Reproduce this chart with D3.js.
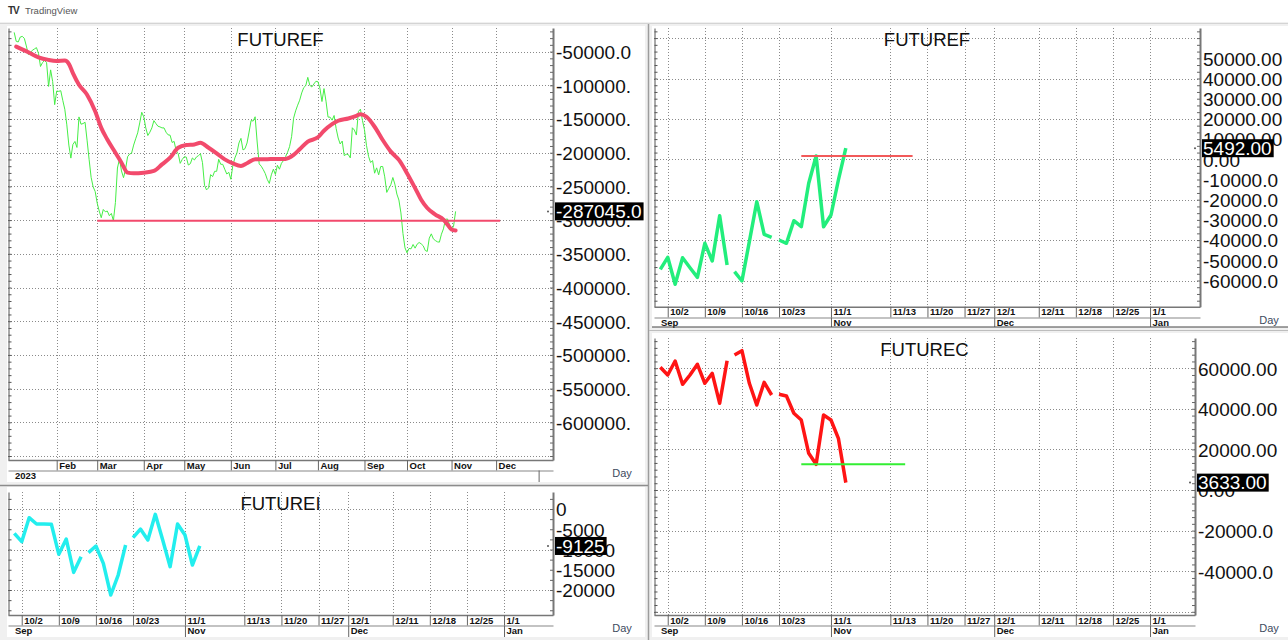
<!DOCTYPE html>
<html>
<head>
<meta charset="utf-8">
<script src="https://cdn.jsdelivr.net/npm/d3@7"></script>
<style>
    body { margin: 0; background: #f0f0f0; }
    svg { display: block; }
</style>
</head>
<body>
<svg id="chart" width="1288" height="640"></svg>
<script>
var FONT = '"Liberation Sans", Arial, sans-serif';

// ---- top-left FUTUREF: one value per weekday, from 2023-01-03 to 2023-11-03
var futurefStart = "2023-01-03";
var futurefDaily = [
    -21500, -34700, -35700, -28400, -27400, -30300, -41600, -54400, -51500, -48000,
    -46100, -44100, -52500, -72100, -66200, -63300, -66200, -101700, -77100, -94300,
    -128700, -108500, -109000, -108000, -122300, -135600, -158700, -188700, -208000, -187800,
    -183300, -192200, -146900, -157700, -156800, -154800, -181400, -209900, -236500, -250700,
    -257600, -274800, -286600, -296500, -284200, -287600, -286600, -293500, -290100, -300900,
    -273900, -222700, -209400, -227100, -237000, -224700, -206000, -202000, -200500, -188700,
    -179400, -170500, -155800, -140000, -146900, -163200, -174500, -169600, -163200, -152400,
    -156800, -160700, -161700, -163200, -163200, -169600, -173500, -174000, -184800, -183300,
    -197100, -201500, -215800, -209900, -206000, -206500, -218300, -216300, -207800, -210800,
    -206400, -204400, -201500, -214800, -248300, -255200, -252200, -232500, -235500, -227600,
    -227600, -209800, -217200, -217200, -224600, -231600, -229100, -239400, -218800, -207700,
    -200400, -185600, -178700, -195900, -194000, -185600, -169400, -152200, -153100, -146700,
    -184100, -216600, -220000, -225000, -230900, -239700, -245600, -232800, -224500, -232300,
    -218600, -224500, -215600, -211700, -205800, -199400, -191000, -176300, -148700, -137900,
    -129500, -122100, -111300, -103400, -100500, -88200, -100000, -102500, -98000, -94100,
    -94600, -104400, -124100, -104900, -123600, -147200, -147200, -151700, -144800, -164000,
    -178200, -187100, -182700, -204300, -202300, -202800, -207700, -163000, -166400, -173800,
    -138900, -135400, -152200, -165900, -189500, -205300, -214600, -211700, -230400, -222500,
    -232800, -220500, -220500, -235800, -258900, -253000, -247600, -236800, -246600, -261400,
    -270200, -289400, -319900, -341100, -348500, -342000, -342600, -336200, -341600, -335700,
    -333200, -335200, -338100, -345000, -346500, -326800, -320400, -327800, -330300, -332200,
    -332700, -320900, -313000, -298800, -298300, -307100, -314500, -309100, -287045
];
// smoothed line
var futurefAvgDates = [
    "2023-01-04", "2023-01-12", "2023-01-19", "2023-01-26", "2023-02-01", "2023-02-07", "2023-02-09",
    "2023-02-13", "2023-02-16", "2023-02-22", "2023-02-28", "2023-03-03", "2023-03-08", "2023-03-14",
    "2023-03-17", "2023-03-22", "2023-03-27", "2023-04-03", "2023-04-10", "2023-04-14", "2023-04-20",
    "2023-04-26", "2023-05-02", "2023-05-08", "2023-05-11", "2023-05-17", "2023-05-23", "2023-05-29",
    "2023-06-02", "2023-06-08", "2023-06-13", "2023-06-19", "2023-06-26", "2023-07-03", "2023-07-10",
    "2023-07-14", "2023-07-19", "2023-07-25", "2023-08-01", "2023-08-04", "2023-08-10", "2023-08-15",
    "2023-08-22", "2023-08-28", "2023-08-30", "2023-09-04", "2023-09-08", "2023-09-14", "2023-09-20",
    "2023-09-26", "2023-10-02", "2023-10-06", "2023-10-11", "2023-10-16", "2023-10-20", "2023-10-26",
    "2023-10-30", "2023-11-01", "2023-11-03"
];
var futurefAvgValues = [
    -42600, -51000, -58400, -62300, -63800, -63300, -68200,
    -82000, -99200, -114000, -138600, -163200, -180400, -200000,
    -214800, -229600, -230600, -229600, -227100, -217300, -207400,
    -192700, -188700, -187800, -185300, -192700, -201000, -209900,
    -215800, -219600, -215600, -209700, -209700, -209200, -209200,
    -203300, -195000, -183600, -177200, -167400, -157600, -152600,
    -149200, -145300, -142800, -146700, -161500, -181200, -198400,
    -210700, -230400, -252500, -269700, -282000, -291800, -299300,
    -306600, -314000, -315500
];
var futurefLevelDates = ["2023-03-01", "2023-12-05"];
var futurefLevel = -301000;

// ---- the three recent panels (Sep 29 .. Nov 3)
var recentDates = [
    "2023-09-29", "2023-10-02", "2023-10-03", "2023-10-04", "2023-10-05", "2023-10-06", "2023-10-09",
    "2023-10-10", "2023-10-11", "2023-10-12", "2023-10-13", "2023-10-16", "2023-10-17", "2023-10-18",
    "2023-10-19", "2023-10-20", "2023-10-23", "2023-10-24", "2023-10-25", "2023-10-26", "2023-10-27",
    "2023-10-30", "2023-10-31", "2023-11-01", "2023-11-02", "2023-11-03"
];
var gapAfter = ["2023-10-12", "2023-10-20"];
var futureiValues = [
    -6000, -8070, -2140, -3700, -3700, -3780, -11190, -7410, -15640, -11770, -10780, -9140, -13420,
    -21230, -16300, -8890, -7080, -4940, -7650, -1320, -7650, -14240, -3700, -6420, -13830, -9125
];
var futuref2Values = [
    -54455, -48515, -61881, -48700, -53660, -58420, -41580, -50350, -27920, -52330, -55640, -60250, -40790,
    -20990, -37130, -38610, -39950, -41580, -30400, -33370, -11880, 1630, -33370, -27570, -10250, 5492
];
var futurecValues = [
    60440, 56650, 63550, 52070, 56650, 61920, 52560, 57490, 42710, 63700, 66500, 68620, 52560,
    41870, 53050, 46800, 47140, 46300, 37780, 34480, 18080, 12660, 36950, 34480, 25470, 3633
];
var futuref2LevelDates = ["2023-10-26", "2023-11-16"];
var futuref2Level = 1630;
var futurecLevelDates = ["2023-10-26", "2023-11-15"];
var futurecLevel = 12660;

// ---- tick labels
var monthTickDates = ["2023-02-01", "2023-03-01", "2023-04-03", "2023-05-01", "2023-06-01", "2023-07-03",
    "2023-08-01", "2023-09-01", "2023-10-02", "2023-11-01", "2023-12-01"];
var monthTickLabels = ["Feb", "Mar", "Apr", "May", "Jun", "Jul", "Aug", "Sep", "Oct", "Nov", "Dec"];
var yearBandDates = ["2024-01-01"];
var yearBandLabels = [""];
var dayTickDates = ["2023-10-02", "2023-10-09", "2023-10-16", "2023-10-23", "2023-11-01", "2023-11-13",
    "2023-11-20", "2023-11-27", "2023-12-01", "2023-12-11", "2023-12-18", "2023-12-25", "2024-01-01"];
var dayTickLabels = ["10/2", "10/9", "10/16", "10/23", "11/1", "11/13", "11/20", "11/27", "12/1",
    "12/11", "12/18", "12/25", "1/1"];
var monthBandDates = ["2023-11-01", "2023-12-01", "2024-01-01"];
var monthBandLabels = ["Nov", "Dec", "Jan"];

var p1Ticks = [-50000, -100000, -150000, -200000, -250000, -300000, -350000, -400000, -450000, -500000, -550000, -600000];
var p1TickLabels = ["-50000.0", "-100000.", "-150000.", "-200000.", "-250000.", "-300000.", "-350000.",
    "-400000.", "-450000.", "-500000.", "-550000.", "-600000."];
var p2Ticks = [0, -5000, -10000, -15000, -20000];
var p2TickLabels = ["0", "-5000", "-10000", "-15000", "-20000"];
var p3Ticks = [50000, 40000, 30000, 20000, 10000, 0, -10000, -20000, -30000, -40000, -50000, -60000];
var p3TickLabels = ["50000.00", "40000.00", "30000.00", "20000.00", "10000.00", "0.00", "-10000.0",
    "-20000.0", "-30000.0", "-40000.0", "-50000.0", "-60000.0"];
var p4Ticks = [60000, 40000, 20000, 0, -20000, -40000];
var p4TickLabels = ["60000.00", "40000.00", "20000.00", "0.00", "-20000.0", "-40000.0"];

var svg = d3.select("#chart").attr("font-family", FONT);

function parseDay(s)
{
    var p = s.split("-");
    return new Date(Date.UTC(+p[0], p[1] - 1, +p[2]));
}
var baseDay = parseDay("2023-02-01");

// weekday count from Feb 1 2023 (weekends skipped)
function weekdayIndex(s)
{
    var d = parseDay(s);
    var t = new Date(baseDay.getTime());
    var step = d > baseDay ? 1 : -1;
    var n = 0;
    while (t.getTime() != d.getTime())
    {
        t.setUTCDate(t.getUTCDate() + step);
        var wd = t.getUTCDay();
        if (wd != 0 && wd != 6) n += step;
    }
    return n;
}

// page frame
svg.append("rect").attr("x", 0).attr("y", 0).attr("width", 1288).attr("height", 22).attr("fill", "#fff");
svg.append("line").attr("x1", 0).attr("x2", 1288).attr("y1", 23.5).attr("y2", 23.5).attr("stroke", "#d4d4d4");
svg.append("text").attr("x", 8).attr("y", 14).attr("font-size", 10).attr("font-weight", "bold")
    .attr("fill", "#333").attr("letter-spacing", -1).text("TV");
svg.append("text").attr("x", 25).attr("y", 14).attr("font-size", 9.5).attr("fill", "#555").text("TradingView");

function drawPanel(p)
{
    var g = svg.append("g");
    var xr = p.x.range(), yr = p.y.range();
    var yd = p.y.domain();

    g.append("rect").attr("x", p.frame[0]).attr("y", p.frame[1])
        .attr("width", p.frame[2] - p.frame[0]).attr("height", p.frame[3] - p.frame[1])
        .attr("fill", "#fff");

    // grid
    var yGrid = [];
    for (var v = Math.ceil(yd[0] / p.gridStep) * p.gridStep; v <= yd[1]; v += p.gridStep) yGrid.push(v);
    g.append("g").selectAll("line").data(yGrid).enter().append("line")
        .attr("x1", xr[0]).attr("x2", xr[1])
        .attr("y1", function(d) { return Math.round(p.y(d)) + 0.5; })
        .attr("y2", function(d) { return Math.round(p.y(d)) + 0.5; })
        .attr("stroke", "#8a8a8a").attr("stroke-dasharray", "1,2");
    g.append("g").selectAll("line").data(p.xTicks).enter().append("line")
        .attr("x1", function(d) { return Math.round(p.x(d)) + 0.5; })
        .attr("x2", function(d) { return Math.round(p.x(d)) + 0.5; })
        .attr("y1", yr[1]).attr("y2", yr[0])
        .attr("stroke", "#8a8a8a").attr("stroke-dasharray", "1,2");

    // minor ticks on both edges
    var minor = [];
    for (var m = Math.ceil(yd[0] / p.minorStep) * p.minorStep; m <= yd[1]; m += p.minorStep) minor.push(m);
    var le = g.append("g").attr("transform", "translate(" + (xr[0] + 0.5) + ",0)")
        .call(d3.axisRight(p.y).tickValues(minor).tickSize(3).tickFormat("").tickSizeOuter(0));
    le.selectAll("path, line").attr("stroke", "#555");
    var re = g.append("g").attr("transform", "translate(" + xr[1] + ",0)")
        .call(d3.axisLeft(p.y).tickValues(minor).tickSize(3).tickFormat("").tickSizeOuter(0));
    re.selectAll("line").attr("stroke", "#666");
    re.select(".domain").attr("stroke", "#777").attr("stroke-width", 2);

    // value labels
    var lab = g.append("g").attr("transform", "translate(" + (xr[1] + 1) + ",0)")
        .call(d3.axisRight(p.y).tickValues(p.yTicks)
            .tickFormat(function(d, i) { return p.yLabels[i]; })
            .tickSize(0).tickPadding(2).tickSizeOuter(0));
    lab.select(".domain").remove();
    lab.attr("font-size", 19).attr("font-family", FONT);
    lab.selectAll("text").attr("fill", "#111").attr("dy", "0.36em");

    // date bands
    var xa = g.append("g").attr("transform", "translate(0," + yr[0] + ")")
        .call(d3.axisBottom(p.x).tickValues(p.xTicks)
            .tickFormat(function(d, i) { return p.xLabels[i]; })
            .tickSize(p.band1).tickSizeOuter(0));
    xa.attr("font-size", 9.5).attr("font-weight", "bold").attr("font-family", FONT);
    xa.select(".domain").attr("stroke", "#777").attr("stroke-width", 1.5);
    xa.selectAll("line").attr("stroke", "#666");
    xa.selectAll("text").attr("x", 2).attr("y", 2).attr("dy", "0.71em")
        .attr("text-anchor", "start").attr("fill", "#111");

    var xb = g.append("g").attr("transform", "translate(0," + (yr[0] + p.band1) + ")")
        .call(d3.axisBottom(p.x).tickValues(p.lowTicks)
            .tickFormat(function(d, i) { return p.lowLabels[i]; })
            .tickSize(p.band2).tickSizeOuter(0));
    xb.attr("font-size", 9.5).attr("font-weight", "bold").attr("font-family", FONT);
    xb.select(".domain").attr("stroke", "#888").attr("stroke-width", 1.2);
    xb.selectAll("line").attr("stroke", "#666");
    xb.selectAll("text").attr("x", 2).attr("y", 2).attr("dy", "0.71em")
        .attr("text-anchor", "start").attr("fill", "#111");
    g.append("text").attr("x", xr[0] + 7).attr("y", yr[0] + p.band1 + 2).attr("dy", "0.71em")
        .attr("font-size", 9.5).attr("font-weight", "bold").attr("fill", "#111").text(p.lowFirst);

    g.append("text").attr("x", p.dayX).attr("y", yr[0] + p.band1 + 6)
        .attr("text-anchor", "middle").attr("font-size", 11).attr("fill", "#3d4a5e").text("Day");

    // title
    g.append("text").attr("x", (xr[0] + xr[1]) / 2).attr("y", p.titleY)
        .attr("text-anchor", "middle").attr("font-size", 18.5).attr("fill", "#111").text(p.title);

    return g;
}

function lastBox(g, p, value, label)
{
    var xr = p.x.range();
    var yv = p.y(value);
    g.append("circle").attr("cx", xr[1] - 5).attr("cy", yv).attr("r", 1).attr("fill", "#555");
    var box = g.append("rect").attr("x", xr[1] + 2).attr("y", yv - 9).attr("height", 18).attr("fill", "#000");
    var t = g.append("text").attr("x", xr[1] + 3).attr("y", yv).attr("dy", "0.36em")
        .attr("font-size", 19).attr("fill", "#fff").text(label);
    box.attr("width", t.node().getComputedTextLength() + 3);
}

function segments(dates, values)
{
    var segs = [[]];
    dates.forEach(function(d, i) {
        segs[segs.length - 1].push([weekdayIndex(d), values[i]]);
        if (gapAfter.indexOf(d) >= 0) segs.push([]);
    });
    return segs;
}

function drawSeries(g, p, segs, color, width)
{
    var line = d3.line()
        .x(function(d) { return p.x(d[0]); })
        .y(function(d) { return p.y(d[1]); });
    g.selectAll(null).data(segs).enter().append("path")
        .attr("d", line)
        .attr("fill", "none").attr("stroke", color).attr("stroke-width", width)
        .attr("stroke-linejoin", "round");
}

function drawLevel(g, p, dates, value, color)
{
    g.append("line")
        .attr("x1", p.x(weekdayIndex(dates[0]))).attr("x2", p.x(weekdayIndex(dates[1])))
        .attr("y1", p.y(value)).attr("y2", p.y(value))
        .attr("stroke", color).attr("stroke-width", 2);
}

// separators between panels
svg.append("line").attr("x1", 648.5).attr("x2", 648.5).attr("y1", 24).attr("y2", 640).attr("stroke", "#9c9c9c").attr("stroke-width", 1.5);
svg.append("line").attr("x1", 0).attr("x2", 648).attr("y1", 485.5).attr("y2", 485.5).attr("stroke", "#8c8c8c").attr("stroke-width", 1.5);
svg.append("line").attr("x1", 649).attr("x2", 1288).attr("y1", 330.5).attr("y2", 330.5).attr("stroke", "#bdbdbd").attr("stroke-width", 1);

var dayTicks = dayTickDates.map(weekdayIndex);
var monthBand = monthBandDates.map(weekdayIndex);

// ---- panel 1: FUTUREF (year)
var p1 = {
    x: d3.scaleLinear().domain([-24.05, 245.1]).range([8, 553]),
    y: d3.scaleLinear().domain([-655900, -14990]).range([460, 28]),
    frame: [7, 26, 645, 482],
    gridStep: 50000, minorStep: 10000,
    yTicks: p1Ticks, yLabels: p1TickLabels,
    xTicks: monthTickDates.map(weekdayIndex), xLabels: monthTickLabels,
    lowTicks: yearBandDates.map(weekdayIndex), lowLabels: yearBandLabels, lowFirst: "2023",
    band1: 10.5, band2: 11.5, dayX: 622,
    title: "FUTUREF", titleY: 46
};
var g1 = drawPanel(p1);
var start1 = weekdayIndex(futurefStart);
drawSeries(g1, p1, [futurefDaily.map(function(v, i) { return [start1 + i, v]; })], "#46ee46", 1);
drawLevel(g1, p1, futurefLevelDates, futurefLevel, "#f24a6c");
g1.append("path")
    .datum(futurefAvgDates.map(function(d, i) { return [weekdayIndex(d), futurefAvgValues[i]]; }))
    .attr("d", d3.line().curve(d3.curveMonotoneX)
        .x(function(d) { return p1.x(d[0]); })
        .y(function(d) { return p1.y(d[1]); }))
    .attr("fill", "none").attr("stroke", "#f24a6c").attr("stroke-width", 4)
    .attr("stroke-linejoin", "round").attr("stroke-linecap", "round");
lastBox(g1, p1, futurefDaily[futurefDaily.length - 1], "-287045.0");

// ---- panel 2: FUTUREI
var p2 = {
    x: d3.scaleLinear().domain([171.15, 244.6]).range([8, 553]),
    y: d3.scaleLinear().domain([-26170, 4200]).range([615, 492]),
    frame: [7, 487, 645, 637],
    gridStep: 10000, minorStep: 2500,
    yTicks: p2Ticks, yLabels: p2TickLabels,
    xTicks: dayTicks, xLabels: dayTickLabels,
    lowTicks: monthBand, lowLabels: monthBandLabels, lowFirst: "Sep",
    band1: 10.5, band2: 11.5, dayX: 622,
    title: "FUTUREI", titleY: 510
};
var g2 = drawPanel(p2);
drawSeries(g2, p2, segments(recentDates, futureiValues), "#22eeee", 3.5);
lastBox(g2, p2, futureiValues[futureiValues.length - 1], "-9125");

// ---- panel 3: FUTUREF (recent)
var p3 = {
    x: d3.scaleLinear().domain([171.15, 244.73]).range([654, 1200]),
    y: d3.scaleLinear().domain([-72970, 65000]).range([306.7, 28]),
    frame: [652, 26, 1288, 327],
    gridStep: 20000, minorStep: 20000 / 6,
    yTicks: p3Ticks, yLabels: p3TickLabels,
    xTicks: dayTicks, xLabels: dayTickLabels,
    lowTicks: monthBand, lowLabels: monthBandLabels, lowFirst: "Sep",
    band1: 10.8, band2: 9.5, dayX: 1269,
    title: "FUTUREF", titleY: 46
};
var g3 = drawPanel(p3);
g3.append("line").attr("x1", 652).attr("x2", 1288).attr("y1", 327).attr("y2", 327).attr("stroke", "#444");
drawSeries(g3, p3, segments(recentDates, futuref2Values), "#22ee7c", 3.5);
drawLevel(g3, p3, futuref2LevelDates, futuref2Level, "#f25a5a");
lastBox(g3, p3, futuref2Values[futuref2Values.length - 1], "5492.00");

// ---- panel 4: FUTUREC
var p4 = {
    x: d3.scaleLinear().domain([171.15, 244.06]).range([654, 1195]),
    y: d3.scaleLinear().domain([-61580, 74880]).range([615, 338]),
    frame: [652, 333, 1288, 637],
    gridStep: 20000, minorStep: 20000 / 6,
    yTicks: p4Ticks, yLabels: p4TickLabels,
    xTicks: dayTicks, xLabels: dayTickLabels,
    lowTicks: monthBand, lowLabels: monthBandLabels, lowFirst: "Sep",
    band1: 10.5, band2: 11.5, dayX: 1269,
    title: "FUTUREC", titleY: 356
};
var g4 = drawPanel(p4);
drawSeries(g4, p4, segments(recentDates, futurecValues), "#ff1414", 3.5);
drawLevel(g4, p4, futurecLevelDates, futurecLevel, "#33ee33");
lastBox(g4, p4, futurecValues[futurecValues.length - 1], "3633.00");
</script>
</body>
</html>
